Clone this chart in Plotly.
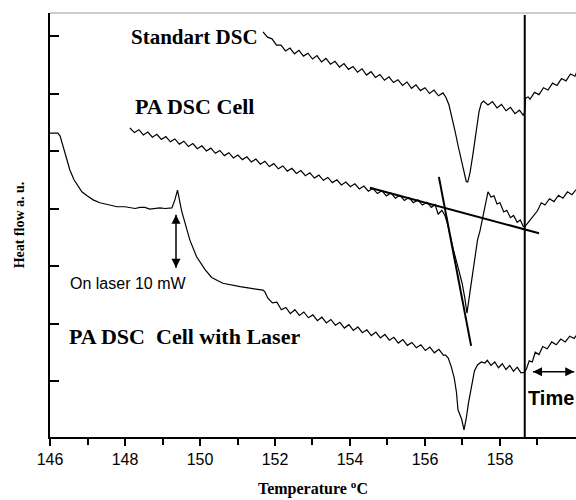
import plotly.graph_objects as go

# ---- Standart DSC trace (temperature in degC, heat flow in a.u.) ----
std_t = [151.68, 151.80, 151.92, 152.04, 152.16, 152.28, 152.40, 152.52, 152.64, 152.76,
         152.88, 153.00, 153.12, 153.24, 153.36, 153.48, 153.60, 153.72, 153.84, 153.96,
         154.08, 154.20, 154.32, 154.44, 154.56, 154.68, 154.80, 154.92, 155.04, 155.16,
         155.28, 155.40, 155.52, 155.64, 155.76, 155.88, 156.00, 156.12, 156.24, 156.36,
         156.48, 156.56, 156.64, 156.72, 156.80, 156.88, 156.96, 157.04, 157.10, 157.14,
         157.20, 157.28, 157.36, 157.44, 157.50, 157.56, 157.68, 157.80, 157.92, 158.04,
         158.16, 158.28, 158.40, 158.52, 158.62, 158.66, 158.68, 158.75, 158.80, 158.92,
         159.04, 159.16, 159.28, 159.40, 159.52, 159.64, 159.76, 159.88, 160.00, 160.05]
std_hf = [7.07, 6.98, 6.95, 6.84, 6.84, 6.74, 6.79, 6.69, 6.75, 6.65,
          6.70, 6.60, 6.66, 6.55, 6.61, 6.51, 6.56, 6.46, 6.52, 6.42,
          6.47, 6.37, 6.43, 6.32, 6.38, 6.28, 6.33, 6.23, 6.29, 6.19,
          6.24, 6.14, 6.20, 6.09, 6.15, 6.05, 6.10, 6.00, 6.06, 5.96,
          6.01, 5.93, 5.80, 5.60, 5.35, 5.10, 4.85, 4.62, 4.47, 4.46,
          4.62, 4.95, 5.35, 5.68, 5.83, 5.87, 5.80, 5.86, 5.75, 5.81,
          5.70, 5.76, 5.65, 5.71, 5.62, 5.68, 5.92, 5.94, 5.90, 6.02,
          5.98, 6.10, 6.06, 6.18, 6.14, 6.26, 6.22, 6.34, 6.30, 6.38]

# ---- PA DSC Cell trace ----
pa_t = [148.13, 148.25, 148.37, 148.49, 148.61, 148.73, 148.85, 148.97, 149.09, 149.21,
        149.33, 149.45, 149.57, 149.69, 149.81, 149.93, 150.05, 150.17, 150.29, 150.41,
        150.53, 150.65, 150.77, 150.89, 151.01, 151.13, 151.25, 151.37, 151.49, 151.61,
        151.73, 151.85, 151.97, 152.09, 152.21, 152.33, 152.45, 152.57, 152.69, 152.81,
        152.93, 153.05, 153.17, 153.29, 153.41, 153.53, 153.65, 153.77, 153.89, 154.01,
        154.13, 154.25, 154.37, 154.49, 154.61, 154.73, 154.85, 154.97, 155.09, 155.21,
        155.33, 155.45, 155.57, 155.69, 155.81, 155.93, 156.05, 156.17, 156.27, 156.35,
        156.45, 156.53, 156.61, 156.75, 156.88, 156.99, 157.06, 157.12, 157.20, 157.30,
        157.40, 157.47, 157.58, 157.68, 157.76, 157.84, 157.92, 158.00, 158.10, 158.18,
        158.28, 158.36, 158.46, 158.54, 158.62, 158.66, 158.78, 158.90, 159.00, 159.10,
        159.20, 159.32, 159.44, 159.56, 159.68, 159.80, 159.92, 160.03]
pa_hf = [5.40, 5.32, 5.37, 5.28, 5.33, 5.24, 5.29, 5.20, 5.25, 5.16,
         5.21, 5.12, 5.17, 5.08, 5.13, 5.04, 5.09, 5.00, 5.05, 4.96,
         5.01, 4.92, 4.97, 4.88, 4.93, 4.85, 4.90, 4.81, 4.86, 4.77,
         4.82, 4.73, 4.78, 4.69, 4.74, 4.65, 4.70, 4.61, 4.66, 4.57,
         4.62, 4.53, 4.58, 4.49, 4.54, 4.45, 4.50, 4.41, 4.46, 4.38,
         4.43, 4.34, 4.39, 4.30, 4.35, 4.26, 4.31, 4.22, 4.27, 4.18,
         4.23, 4.14, 4.19, 4.10, 4.15, 4.06, 4.11, 4.02, 4.07, 3.90,
         3.97, 3.88, 3.71, 3.30, 2.98, 2.70, 2.45, 2.18, 2.55, 3.05,
         3.45, 3.62, 3.98, 4.29, 4.20, 4.22, 4.08, 4.10, 3.94, 3.97,
         3.84, 3.88, 3.76, 3.80, 3.69, 3.68, 3.78, 3.88, 3.96, 4.10,
         4.06, 4.17, 4.12, 4.23, 4.18, 4.29, 4.24, 4.33]

# ---- PA DSC Cell with laser trace ----
las_t = [146.00, 146.21, 146.27, 146.35, 146.43, 146.53, 146.64, 146.72, 146.85, 146.99,
         147.15, 147.33, 147.60, 147.79, 148.00, 148.15, 148.27, 148.40, 148.53, 148.66,
         148.80, 148.93, 149.07, 149.18, 149.25, 149.33, 149.40, 149.51, 149.60, 149.73,
         149.91, 150.13, 150.31, 150.61, 151.07, 151.47, 151.68, 151.73, 151.81, 151.93,
         152.05, 152.17, 152.29, 152.41, 152.53, 152.65, 152.77, 152.89, 153.01, 153.13,
         153.25, 153.37, 153.49, 153.61, 153.73, 153.85, 153.97, 154.09, 154.21, 154.33,
         154.45, 154.57, 154.69, 154.81, 154.93, 155.05, 155.17, 155.29, 155.41, 155.53,
         155.65, 155.77, 155.89, 156.01, 156.13, 156.25, 156.37, 156.49, 156.55, 156.62,
         156.70, 156.78, 156.84, 156.88, 156.93, 156.98, 157.04, 157.10, 157.16, 157.24,
         157.32, 157.40, 157.50, 157.60, 157.66, 157.76, 157.86, 157.96, 158.06, 158.16,
         158.26, 158.36, 158.46, 158.56, 158.64, 158.70, 158.78, 158.86, 158.94, 159.04,
         159.14, 159.26, 159.38, 159.50, 159.62, 159.74, 159.86, 159.98, 160.03]
las_hf = [5.31, 5.31, 5.26, 5.07, 4.88, 4.67, 4.50, 4.41, 4.29, 4.22,
          4.15, 4.10, 4.06, 4.03, 4.03, 4.01, 4.00, 4.02, 4.02, 3.99,
          4.00, 4.01, 4.00, 4.00, 4.01, 4.15, 4.32, 3.96, 3.75, 3.45,
          3.16, 2.94, 2.80, 2.70, 2.64, 2.60, 2.58, 2.55, 2.44, 2.36,
          2.37, 2.24, 2.28, 2.17, 2.24, 2.14, 2.20, 2.10, 2.15, 2.05,
          2.11, 2.01, 2.07, 1.97, 2.02, 1.92, 1.98, 1.88, 1.94, 1.84,
          1.89, 1.79, 1.85, 1.75, 1.81, 1.71, 1.76, 1.66, 1.72, 1.62,
          1.67, 1.58, 1.63, 1.53, 1.59, 1.49, 1.55, 1.45, 1.45, 1.40,
          1.25, 1.05, 0.80, 0.50, 0.40, 0.33, 0.15, 0.35, 0.62, 0.90,
          1.18, 1.28, 1.33, 1.31, 1.36, 1.27, 1.33, 1.23, 1.30, 1.20,
          1.27, 1.17, 1.24, 1.14, 1.15, 1.20, 1.35, 1.33, 1.50, 1.46,
          1.60, 1.56, 1.68, 1.63, 1.73, 1.68, 1.78, 1.74, 1.79]

# ---- onset construction lines on the PA DSC Cell curve ----
baseline_t = [154.53, 159.04]
baseline_hf = [4.36, 3.57]
leading_edge_t = [156.37, 157.23]
leading_edge_hf = [4.55, 1.61]

# ---- markers: laser switch-on and start of isothermal time ----
laser_on_t = [149.36, 149.36]
laser_on_hf = [3.89, 2.97]
time_start_t = 158.66
time_arrow_t = [158.88, 159.98]
time_arrow_hf = [1.16, 1.16]

X_RANGE = [146, 160.027]
Y_RANGE = [0.026, 7.40]
major_ticks = [146, 148, 150, 152, 154, 156, 158]
minor_ticks = [147, 149, 151, 153, 155, 157, 159]
y_ticks = [1, 2, 3, 4, 5, 6, 7]

SERIF = "Liberation Serif, Times New Roman, serif"
SANS = "Liberation Sans, Arial, sans-serif"

fig = go.Figure()
curve_style = dict(color="black", width=1.2)
for t, hf in ((std_t, std_hf), (pa_t, pa_hf), (las_t, las_hf)):
    fig.add_trace(go.Scatter(x=t, y=hf, mode="lines", line=curve_style,
                             hoverinfo="skip", showlegend=False))
for t, hf in ((baseline_t, baseline_hf), (leading_edge_t, leading_edge_hf)):
    fig.add_trace(go.Scatter(x=t, y=hf, mode="lines",
                             line=dict(color="black", width=2),
                             hoverinfo="skip", showlegend=False))

# double-headed arrows, drawn as line segments with arrow-tip markers
fig.add_trace(go.Scatter(x=laser_on_t, y=laser_on_hf, mode="lines+markers",
                         line=dict(color="black", width=1.5),
                         marker=dict(symbol=["arrow-up", "arrow-down"], size=9, color="black"),
                         hoverinfo="skip", showlegend=False))
fig.add_trace(go.Scatter(x=time_arrow_t, y=time_arrow_hf, mode="lines+markers",
                         line=dict(color="black", width=1.5),
                         marker=dict(symbol=["arrow-left", "arrow-right"], size=9, color="black"),
                         hoverinfo="skip", showlegend=False, cliponaxis=False))

# vertical line marking the start of the time axis
fig.add_shape(type="line", xref="x", yref="paper", x0=time_start_t, x1=time_start_t,
              y0=0, y1=0.995, line=dict(color="black", width=2))
# thin frame line along the top
fig.add_shape(type="line", xref="paper", yref="paper", x0=0, x1=1, y0=1, y1=1,
              line=dict(color="#9a9a9a", width=1))

labels = [
    ("Standart DSC", 148.10, 6.98, SERIF, 21, True),
    ("PA DSC Cell", 148.21, 5.77, SERIF, 22, True),
    ("PA DSC\u00a0 Cell with Laser", 146.45, 1.78, SERIF, 22, True),
    ("On laser 10 mW", 146.48, 2.69, SANS, 16, False),
    ("Time", 158.70, 0.70, SANS, 20, True),
]
for text, x, y, fam, size, bold in labels:
    fig.add_annotation(x=x, y=y, xref="x", yref="y", text=f"<b>{text}</b>" if bold else text,
                       showarrow=False, xanchor="left", yanchor="middle",
                       font=dict(family=fam, size=size, color="black"))

fig.update_layout(
    width=576, height=500,
    margin=dict(l=50, r=0, t=13, b=63),
    paper_bgcolor="white", plot_bgcolor="white",
    showlegend=False,
)
fig.update_xaxes(range=X_RANGE, showgrid=False, zeroline=False,
                 showline=True, linecolor="black", linewidth=2,
                 tickmode="array", tickvals=major_ticks, ticks="outside",
                 ticklen=7, tickwidth=2, tickcolor="black",
                 tickfont=dict(family=SANS, size=16, color="black"),
                 minor=dict(tickmode="array", tickvals=minor_ticks, ticks="outside",
                            ticklen=6, tickwidth=2, tickcolor="black"),
                 title=dict(text="<b>Temperature <sup>o</sup>C</b>", standoff=16,
                            font=dict(family=SERIF, size=16, color="black")))
fig.update_yaxes(range=Y_RANGE, showgrid=False, zeroline=False,
                 showline=True, linecolor="black", linewidth=2,
                 tickmode="array", tickvals=y_ticks, ticks="inside",
                 ticklen=9, tickwidth=2, tickcolor="black", showticklabels=False,
                 title=dict(text="<b>Heat flow a. u.</b>", standoff=20,
                            font=dict(family=SERIF, size=14, color="black")))

fig.write_html("out.html")
